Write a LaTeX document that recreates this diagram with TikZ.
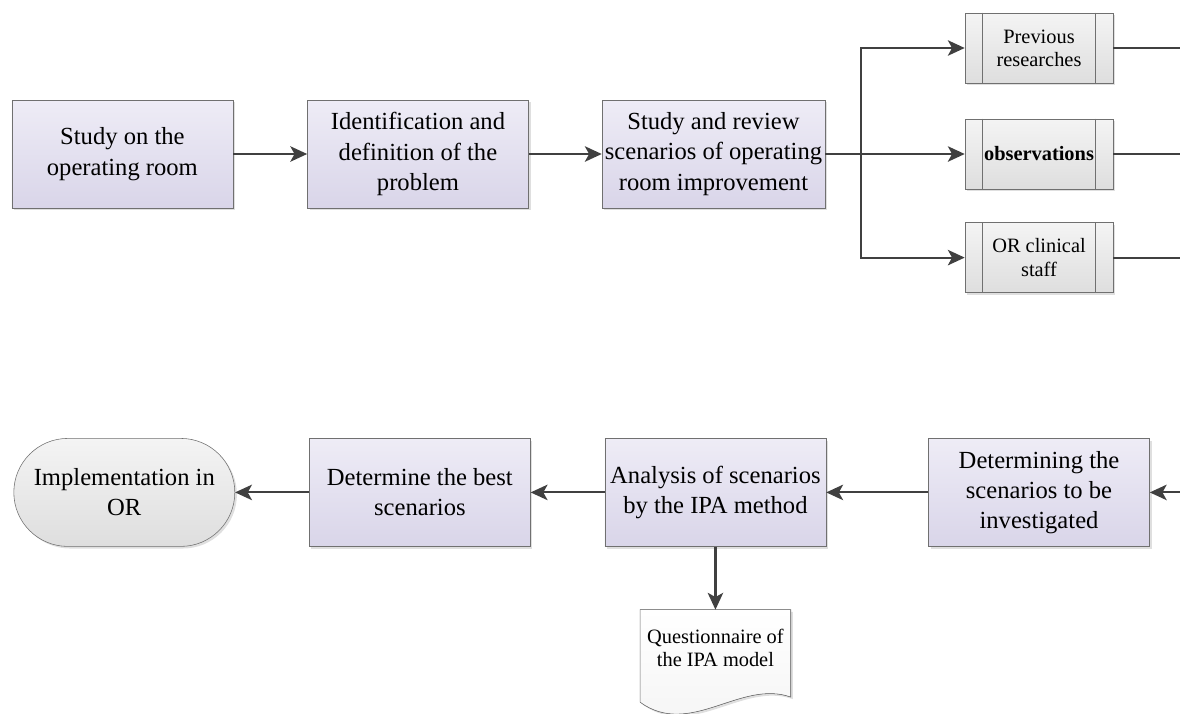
\documentclass[tikz,border=0pt]{standalone}
\usepackage{fontspec}
\setmainfont{Liberation Serif}
\usetikzlibrary{positioning,arrows.meta,shadows}
\definecolor{lavtop}{HTML}{EEECF6}
\definecolor{lavbot}{HTML}{D9D5E9}
\definecolor{greytop}{HTML}{F4F4F4}
\definecolor{greybot}{HTML}{DEDEDE}
\definecolor{edgegrey}{HTML}{707070}
\definecolor{linegrey}{HTML}{404040}

\begin{document}
\begin{tikzpicture}[
  every node/.style={align=center,inner sep=2pt},
  shade/.style={drop shadow={shadow xshift=1.5pt,shadow yshift=-1.5pt,opacity=0.25,fill=gray}},
  procbox/.style={shade,draw=edgegrey,top color=lavtop,bottom color=lavbot,
    minimum width=5.525cm,minimum height=2.7cm,font=\fontsize{17.5}{21.5}\selectfont},
  prebox/.style={shade,draw=edgegrey,top color=greytop,bottom color=greybot,
    minimum width=3.7cm,minimum height=1.75cm,font=\fontsize{14.5}{16.5}\selectfont},
  termbox/.style={shade,draw=edgegrey,top color=greytop,bottom color=greybot,
    rounded corners=1.35cm,minimum width=5.525cm,minimum height=2.7cm,
    font=\fontsize{17.5}{21.5}\selectfont},
  docbox/.style={minimum width=3.75cm,minimum height=1.9cm,
    font=\fontsize{14.5}{16.5}\selectfont},
  flow/.style={draw=linegrey,line width=1.5pt,
    -{Stealth[length=12pt,width=11pt,inset=3pt]}},
  plain/.style={draw=linegrey,line width=1.5pt}]
  \path[use as bounding box] (0,0) rectangle (29.5,-17.825);
  \coordinate (edge) at (29.5,0);

  % top row
  \node[procbox] (study) at (3.06,-3.85) {Study on the\\operating room};
  \node[procbox,right=1.85cm of study] (ident)
    {Identification and\\definition of the\\problem};
  \node[procbox,right=1.825cm of ident] (review)
    {Study and review\\scenarios of operating\\room improvement};
  \coordinate (fork) at ([xshift=0.9cm]review.east);

  \node[prebox] (prev) at (25.975,-1.2) {Previous\\researches};
  \node[prebox] (obs) at (25.975,-3.85) {\textbf{observations}};
  \node[prebox] (staff) at (25.975,-6.44) {OR clinical\\staff};
  \foreach \n in {prev,obs,staff}{
    \draw[edgegrey] ([xshift=0.45cm]\n.north west) -- ([xshift=0.45cm]\n.south west);
    \draw[edgegrey] ([xshift=-0.45cm]\n.north east) -- ([xshift=-0.45cm]\n.south east);
    \draw[plain] (\n.east) -- (\n.east -| edge);
  }

  \draw[flow] (study) -- (ident);
  \draw[flow] (ident) -- (review);
  \draw[flow] (review.east) -- (obs.west);
  \draw[flow] (fork) |- (prev.west);
  \draw[flow] (fork) |- (staff.west);

  % bottom row
  \node[procbox] (determ) at (25.975,-12.31)
    {Determining the\\scenarios to be\\investigated};
  \node[procbox,left=2.55cm of determ] (analysis)
    {Analysis of scenarios\\by the IPA method};
  \node[procbox,left=1.85cm of analysis] (best)
    {Determine the best\\scenarios};
  \node[termbox,left=1.85cm of best] (impl) {Implementation in\\OR};

  % questionnaire document
  \node[docbox,below=1.575cm of analysis] (quest) {};
  \filldraw[shade,draw=edgegrey,top color=white,bottom color=greytop]
    (quest.north west) -- (quest.north east)
    -- ([yshift=-0.27cm]quest.south east)
    .. controls +(-1.25,0.45) and +(1.25,-0.9) .. ([yshift=-0.4cm]quest.south west)
    -- cycle;
  \node[docbox] at (quest) {Questionnaire of\\the IPA model};

  \draw[flow] (determ.east -| edge) -- (determ.east);
  \draw[flow] (determ) -- (analysis);
  \draw[flow] (analysis) -- (best);
  \draw[flow] (best) -- (impl);
  \draw[flow] (analysis) -- (quest);
\end{tikzpicture}
\end{document}
